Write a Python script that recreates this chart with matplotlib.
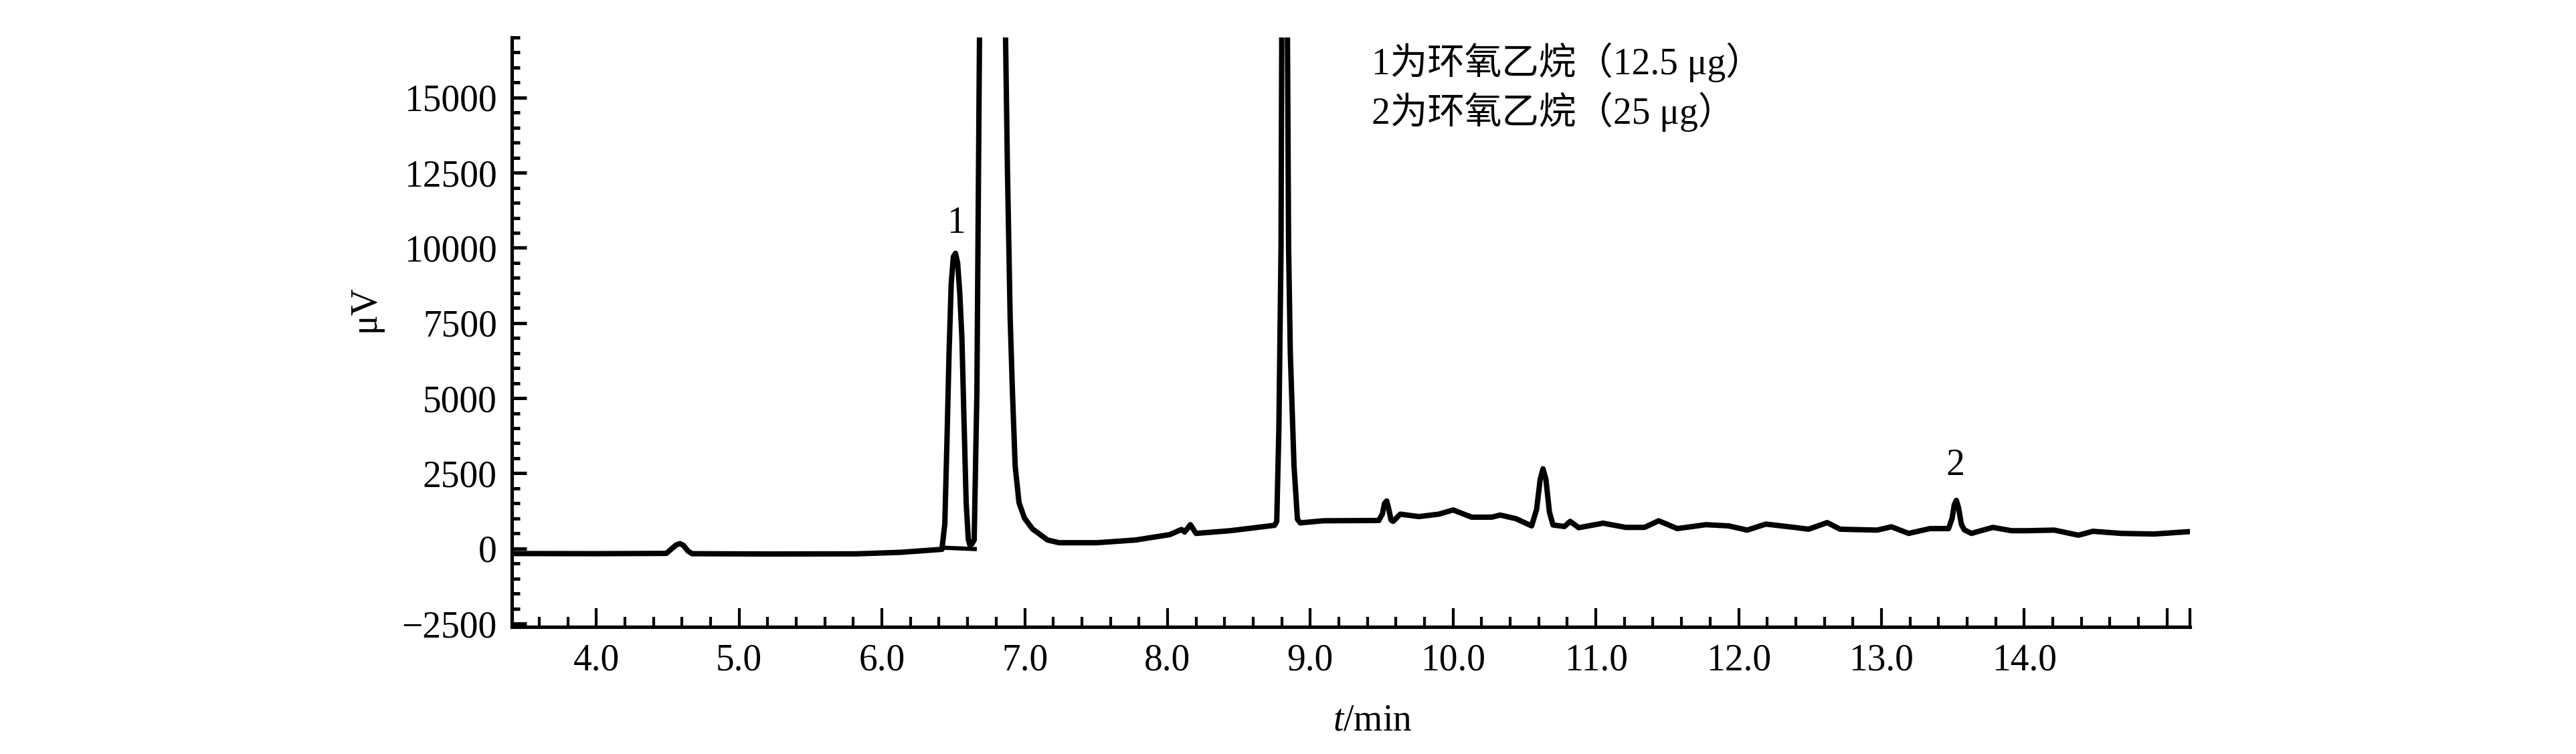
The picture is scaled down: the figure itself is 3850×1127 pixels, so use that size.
import numpy as np
import matplotlib
matplotlib.use("Agg")
import matplotlib.pyplot as plt
from matplotlib.ticker import FixedLocator, MultipleLocator

plt.rcParams['font.family'] = ['Liberation Serif', 'Noto Sans CJK SC']
plt.rcParams['mathtext.fontset'] = 'custom'
plt.rcParams['mathtext.rm'] = 'Liberation Serif'
plt.rcParams['mathtext.it'] = 'Liberation Serif:italic'
plt.rcParams['axes.unicode_minus'] = True

# chromatogram trace (t in min, signal in uV)
t = [3.41, 4.0, 4.49, 4.53, 4.56, 4.585, 4.61, 4.64, 4.67, 5.20, 5.82, 6.13, 6.42,
     6.44, 6.455, 6.47, 6.485, 6.50, 6.515, 6.53, 6.545, 6.56, 6.575, 6.59, 6.605,
     6.615, 6.63, 6.646, 6.665, 6.683, 6.77, 6.866, 6.879, 6.898, 6.914, 6.933,
     6.96, 6.998, 7.054, 7.16, 7.24, 7.506, 7.776, 8.016, 8.098, 8.12,
     8.16, 8.20, 8.44, 8.75, 8.765, 8.78, 8.795, 8.80, 8.82, 8.84, 8.848,
     8.86, 8.886, 8.91, 8.93, 9.09, 9.48, 9.505, 9.52, 9.535, 9.55, 9.565, 9.58,
     9.63, 9.76, 9.90, 10.0, 10.13, 10.27, 10.33, 10.44, 10.55, 10.585, 10.61,
     10.63, 10.65, 10.675, 10.70, 10.78, 10.82, 10.88, 11.05, 11.21, 11.34, 11.44,
     11.57, 11.77, 11.93, 12.06, 12.19, 12.39, 12.49, 12.62, 12.71, 12.97, 13.07,
     13.19, 13.34, 13.47, 13.495, 13.51, 13.525, 13.54, 13.56, 13.58, 13.63, 13.78,
     13.91, 14.02, 14.21, 14.38, 14.48, 14.68, 14.91, 15.16]
signal = [-170, -175, -165, 0, 120, 160, 100, -80, -175, -185, -180, -130, -30,
          800, 3500, 6500, 8800, 9700, 9820, 9500, 8500, 7000, 4200, 1500, 300,
          120, 150, 280, 5200, 16900, 40000, 16900, 12590, 7660, 5200, 2740,
          1520, 1010, 650, 280, 190, 190, 280, 460, 630, 545,
          790, 500, 590, 770, 900, 4000, 10000, 17000, 40000, 17000, 10000,
          6500, 2740, 970, 850, 920, 930, 1150, 1500, 1580, 1300, 950, 900,
          1140, 1060, 1140, 1280, 1040, 1040, 1110, 990, 750, 1300, 2300,
          2650, 2300, 1200, 780, 730, 900, 690, 840, 700, 700, 920,
          660, 790, 750, 610, 810, 700, 640, 860, 640, 610, 720,
          500, 660, 660, 1000, 1450, 1600, 1350, 800, 620, 500, 700,
          590, 590, 610, 440, 570, 500, 480, 560]

# short baseline drawn under peak 1
base_t = [6.45, 6.65]
base_signal = [20, -20]

peak_labels = ['1', '2']
peak_t = [6.52, 13.52]
peak_y = [10810, 2760]

notes = ['1为环氧乙烷（12.5 μg）', '2为环氧乙烷（25 μg）']
notes_y = [16180, 14520]

x_major = [4.0, 5.0, 6.0, 7.0, 8.0, 9.0, 10.0, 11.0, 12.0, 13.0, 14.0, 15.0, 15.16]
x_labels = ['4.0', '5.0', '6.0', '7.0', '8.0', '9.0', '10.0', '11.0', '12.0', '13.0', '14.0', '', '']

fig = plt.figure(figsize=(38.5, 11.27), dpi=100)
ax = fig.add_axes([0.1987, 0.1686, 0.6514, 0.7817])

ax.plot(t, signal, color='black', lw=5.8, solid_joinstyle='round')
ax.plot(base_t, base_signal, color='black', lw=4.5)

ax.set_xlim(3.408, 15.16)
ax.set_ylim(-2610, 17000)

for s in ['top', 'right']:
    ax.spines[s].set_visible(False)
for s in ['left', 'bottom']:
    ax.spines[s].set_linewidth(3.7)

ax.xaxis.set_major_locator(FixedLocator(x_major))
ax.set_xticklabels(x_labels)
ax.xaxis.set_minor_locator(MultipleLocator(0.2))
ax.yaxis.set_major_locator(FixedLocator([-2500, 0, 2500, 5000, 7500, 10000, 12500, 15000]))
ax.yaxis.set_minor_locator(MultipleLocator(500))

ax.tick_params(axis='x', which='major', direction='in', length=20, width=3.0, labelsize=40, pad=18)
ax.tick_params(axis='x', which='minor', direction='in', length=10.8, width=3.0)
ax.tick_params(axis='y', which='major', direction='in', length=16, width=3.6, labelsize=40, pad=16)
ax.tick_params(axis='y', which='minor', direction='in', length=8.9, width=3.6)

ax.set_ylabel('μV', fontsize=40)
ax.yaxis.set_label_coords(-0.077, 0.54)
ax.set_xlabel('$t$/min', fontsize=40)
ax.xaxis.set_label_coords(0.513, -0.13)

for lab, px, py in zip(peak_labels, peak_t, peak_y):
    ax.text(px, py, lab, fontsize=40, ha='center', va='center')

for txt, ny in zip(notes, notes_y):
    ax.text(9.43, ny, txt, fontsize=40, ha='left', va='center')

fig.savefig('out.png', dpi=100)
